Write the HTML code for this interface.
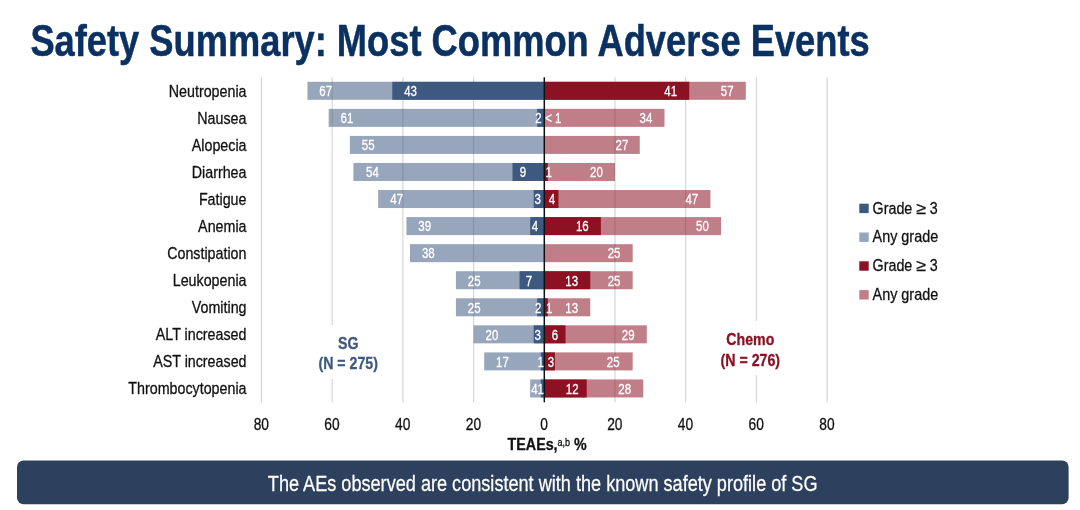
<!DOCTYPE html>
<html lang="en"><head><meta charset="utf-8"><title>Safety Summary: Most Common Adverse Events</title>
<style>html,body{margin:0;padding:0;background:#fff}body{width:1080px;height:510px;overflow:hidden}svg{display:block;font-family:'Liberation Sans', Arial, sans-serif}</style></head><body>
<svg width="1080" height="510" viewBox="0 0 1080 510">
<rect width="1080" height="510" fill="#fff"/>
<text transform="translate(30.40 55.60) scale(0.801 1)" font-size="45.3" text-anchor="start" fill="#0a3161" font-weight="bold" stroke="#0a3161" stroke-width="0.5" stroke-linejoin="round">Safety Summary: Most Common Adverse Events</text>
<text transform="translate(246.50 96.80) scale(0.85 1)" font-size="16.8" text-anchor="end" fill="#111" font-weight="normal" stroke="#111" stroke-width="0.3" stroke-linejoin="round">Neutropenia</text>
<text transform="translate(246.50 123.86) scale(0.85 1)" font-size="16.8" text-anchor="end" fill="#111" font-weight="normal" stroke="#111" stroke-width="0.3" stroke-linejoin="round">Nausea</text>
<text transform="translate(246.50 150.92) scale(0.85 1)" font-size="16.8" text-anchor="end" fill="#111" font-weight="normal" stroke="#111" stroke-width="0.3" stroke-linejoin="round">Alopecia</text>
<text transform="translate(246.50 177.98) scale(0.85 1)" font-size="16.8" text-anchor="end" fill="#111" font-weight="normal" stroke="#111" stroke-width="0.3" stroke-linejoin="round">Diarrhea</text>
<text transform="translate(246.50 205.04) scale(0.85 1)" font-size="16.8" text-anchor="end" fill="#111" font-weight="normal" stroke="#111" stroke-width="0.3" stroke-linejoin="round">Fatigue</text>
<text transform="translate(246.50 232.10) scale(0.85 1)" font-size="16.8" text-anchor="end" fill="#111" font-weight="normal" stroke="#111" stroke-width="0.3" stroke-linejoin="round">Anemia</text>
<text transform="translate(246.50 259.16) scale(0.85 1)" font-size="16.8" text-anchor="end" fill="#111" font-weight="normal" stroke="#111" stroke-width="0.3" stroke-linejoin="round">Constipation</text>
<text transform="translate(246.50 286.22) scale(0.85 1)" font-size="16.8" text-anchor="end" fill="#111" font-weight="normal" stroke="#111" stroke-width="0.3" stroke-linejoin="round">Leukopenia</text>
<text transform="translate(246.50 313.28) scale(0.85 1)" font-size="16.8" text-anchor="end" fill="#111" font-weight="normal" stroke="#111" stroke-width="0.3" stroke-linejoin="round">Vomiting</text>
<text transform="translate(246.50 340.34) scale(0.85 1)" font-size="16.8" text-anchor="end" fill="#111" font-weight="normal" stroke="#111" stroke-width="0.3" stroke-linejoin="round">ALT increased</text>
<text transform="translate(246.50 367.40) scale(0.85 1)" font-size="16.8" text-anchor="end" fill="#111" font-weight="normal" stroke="#111" stroke-width="0.3" stroke-linejoin="round">AST increased</text>
<text transform="translate(246.50 394.46) scale(0.85 1)" font-size="16.8" text-anchor="end" fill="#111" font-weight="normal" stroke="#111" stroke-width="0.3" stroke-linejoin="round">Thrombocytopenia</text>
<rect x="260.90" y="77.3" width="1.2" height="325.00" fill="#d6d6d6"/>
<rect x="331.60" y="77.3" width="1.2" height="325.00" fill="#d6d6d6"/>
<rect x="402.30" y="77.3" width="1.2" height="325.00" fill="#d6d6d6"/>
<rect x="473.00" y="77.3" width="1.2" height="325.00" fill="#d6d6d6"/>
<rect x="614.40" y="77.3" width="1.2" height="325.00" fill="#d6d6d6"/>
<rect x="685.10" y="77.3" width="1.2" height="325.00" fill="#d6d6d6"/>
<rect x="755.80" y="77.3" width="1.2" height="325.00" fill="#d6d6d6"/>
<rect x="826.50" y="77.3" width="1.2" height="325.00" fill="#d6d6d6"/>
<rect x="307.45" y="81.80" width="236.84" height="18.0" fill="#3e5980" fill-opacity="0.535"/>
<rect x="392.29" y="81.80" width="152.00" height="18.0" fill="#3e5980"/>
<rect x="544.30" y="81.80" width="201.50" height="18.0" fill="#8b1123" fill-opacity="0.54"/>
<rect x="544.30" y="81.80" width="144.94" height="18.0" fill="#8b1123"/>
<rect x="328.66" y="108.86" width="215.64" height="18.0" fill="#3e5980" fill-opacity="0.535"/>
<rect x="537.23" y="108.86" width="7.07" height="18.0" fill="#3e5980"/>
<rect x="544.30" y="108.86" width="120.19" height="18.0" fill="#8b1123" fill-opacity="0.54"/>
<rect x="349.87" y="135.92" width="194.43" height="18.0" fill="#3e5980" fill-opacity="0.535"/>
<rect x="544.30" y="135.92" width="95.45" height="18.0" fill="#8b1123" fill-opacity="0.54"/>
<rect x="353.41" y="162.98" width="190.89" height="18.0" fill="#3e5980" fill-opacity="0.535"/>
<rect x="512.48" y="162.98" width="31.82" height="18.0" fill="#3e5980"/>
<rect x="544.30" y="162.98" width="70.70" height="18.0" fill="#8b1123" fill-opacity="0.54"/>
<rect x="544.30" y="162.98" width="3.54" height="18.0" fill="#8b1123"/>
<rect x="378.15" y="190.04" width="166.15" height="18.0" fill="#3e5980" fill-opacity="0.535"/>
<rect x="533.69" y="190.04" width="10.61" height="18.0" fill="#3e5980"/>
<rect x="544.30" y="190.04" width="166.15" height="18.0" fill="#8b1123" fill-opacity="0.54"/>
<rect x="544.30" y="190.04" width="14.14" height="18.0" fill="#8b1123"/>
<rect x="406.43" y="217.10" width="137.87" height="18.0" fill="#3e5980" fill-opacity="0.535"/>
<rect x="530.16" y="217.10" width="14.14" height="18.0" fill="#3e5980"/>
<rect x="544.30" y="217.10" width="176.75" height="18.0" fill="#8b1123" fill-opacity="0.54"/>
<rect x="544.30" y="217.10" width="56.56" height="18.0" fill="#8b1123"/>
<rect x="409.97" y="244.16" width="134.33" height="18.0" fill="#3e5980" fill-opacity="0.535"/>
<rect x="544.30" y="244.16" width="88.38" height="18.0" fill="#8b1123" fill-opacity="0.54"/>
<rect x="455.92" y="271.22" width="88.38" height="18.0" fill="#3e5980" fill-opacity="0.535"/>
<rect x="519.55" y="271.22" width="24.75" height="18.0" fill="#3e5980"/>
<rect x="544.30" y="271.22" width="88.38" height="18.0" fill="#8b1123" fill-opacity="0.54"/>
<rect x="544.30" y="271.22" width="45.95" height="18.0" fill="#8b1123"/>
<rect x="455.92" y="298.28" width="88.38" height="18.0" fill="#3e5980" fill-opacity="0.535"/>
<rect x="537.23" y="298.28" width="7.07" height="18.0" fill="#3e5980"/>
<rect x="544.30" y="298.28" width="45.95" height="18.0" fill="#8b1123" fill-opacity="0.54"/>
<rect x="544.30" y="298.28" width="3.54" height="18.0" fill="#8b1123"/>
<rect x="473.60" y="325.34" width="70.70" height="18.0" fill="#3e5980" fill-opacity="0.535"/>
<rect x="533.69" y="325.34" width="10.61" height="18.0" fill="#3e5980"/>
<rect x="544.30" y="325.34" width="102.52" height="18.0" fill="#8b1123" fill-opacity="0.54"/>
<rect x="544.30" y="325.34" width="21.21" height="18.0" fill="#8b1123"/>
<rect x="484.20" y="352.40" width="60.09" height="18.0" fill="#3e5980" fill-opacity="0.535"/>
<rect x="540.76" y="352.40" width="3.54" height="18.0" fill="#3e5980"/>
<rect x="544.30" y="352.40" width="88.38" height="18.0" fill="#8b1123" fill-opacity="0.54"/>
<rect x="544.30" y="352.40" width="10.61" height="18.0" fill="#8b1123"/>
<rect x="530.16" y="379.46" width="14.14" height="18.0" fill="#3e5980" fill-opacity="0.535"/>
<rect x="540.76" y="379.46" width="3.54" height="18.0" fill="#3e5980"/>
<rect x="544.30" y="379.46" width="98.98" height="18.0" fill="#8b1123" fill-opacity="0.54"/>
<rect x="544.30" y="379.46" width="42.42" height="18.0" fill="#8b1123"/>
<rect x="543.55" y="77.3" width="1.5" height="325.00" fill="#111"/>
<text transform="translate(325.75 96.10) scale(0.82 1)" font-size="14" text-anchor="middle" fill="#fff" font-weight="normal" stroke="#fff" stroke-width="0.3" stroke-linejoin="round">67</text>
<text transform="translate(410.59 96.10) scale(0.82 1)" font-size="14" text-anchor="middle" fill="#fff" font-weight="normal" stroke="#fff" stroke-width="0.3" stroke-linejoin="round">43</text>
<text transform="translate(670.63 96.10) scale(0.82 1)" font-size="14" text-anchor="middle" fill="#fff" font-weight="normal" stroke="#fff" stroke-width="0.3" stroke-linejoin="round">41</text>
<text transform="translate(727.19 96.10) scale(0.82 1)" font-size="14" text-anchor="middle" fill="#fff" font-weight="normal" stroke="#fff" stroke-width="0.3" stroke-linejoin="round">57</text>
<text transform="translate(346.96 123.16) scale(0.82 1)" font-size="14" text-anchor="middle" fill="#fff" font-weight="normal" stroke="#fff" stroke-width="0.3" stroke-linejoin="round">61</text>
<text transform="translate(538.40 123.16) scale(0.82 1)" font-size="14" text-anchor="middle" fill="#fff" font-weight="normal" stroke="#fff" stroke-width="0.3" stroke-linejoin="round">2</text>
<text transform="translate(553.30 123.16) scale(0.82 1)" font-size="14" text-anchor="middle" fill="#fff" font-weight="normal" stroke="#fff" stroke-width="0.3" stroke-linejoin="round">&lt; 1</text>
<text transform="translate(645.89 123.16) scale(0.82 1)" font-size="14" text-anchor="middle" fill="#fff" font-weight="normal" stroke="#fff" stroke-width="0.3" stroke-linejoin="round">34</text>
<text transform="translate(368.17 150.22) scale(0.82 1)" font-size="14" text-anchor="middle" fill="#fff" font-weight="normal" stroke="#fff" stroke-width="0.3" stroke-linejoin="round">55</text>
<text transform="translate(621.90 150.22) scale(0.82 1)" font-size="14" text-anchor="middle" fill="#fff" font-weight="normal" stroke="#fff" stroke-width="0.3" stroke-linejoin="round">27</text>
<text transform="translate(372.50 177.28) scale(0.82 1)" font-size="14" text-anchor="middle" fill="#fff" font-weight="normal" stroke="#fff" stroke-width="0.3" stroke-linejoin="round">54</text>
<text transform="translate(522.90 177.28) scale(0.82 1)" font-size="14" text-anchor="middle" fill="#fff" font-weight="normal" stroke="#fff" stroke-width="0.3" stroke-linejoin="round">9</text>
<text transform="translate(548.60 177.28) scale(0.82 1)" font-size="14" text-anchor="middle" fill="#fff" font-weight="normal" stroke="#fff" stroke-width="0.3" stroke-linejoin="round">1</text>
<text transform="translate(596.40 177.28) scale(0.82 1)" font-size="14" text-anchor="middle" fill="#fff" font-weight="normal" stroke="#fff" stroke-width="0.3" stroke-linejoin="round">20</text>
<text transform="translate(396.70 204.34) scale(0.82 1)" font-size="14" text-anchor="middle" fill="#fff" font-weight="normal" stroke="#fff" stroke-width="0.3" stroke-linejoin="round">47</text>
<text transform="translate(537.60 204.34) scale(0.82 1)" font-size="14" text-anchor="middle" fill="#fff" font-weight="normal" stroke="#fff" stroke-width="0.3" stroke-linejoin="round">3</text>
<text transform="translate(552.00 204.34) scale(0.82 1)" font-size="14" text-anchor="middle" fill="#fff" font-weight="normal" stroke="#fff" stroke-width="0.3" stroke-linejoin="round">4</text>
<text transform="translate(691.84 204.34) scale(0.82 1)" font-size="14" text-anchor="middle" fill="#fff" font-weight="normal" stroke="#fff" stroke-width="0.3" stroke-linejoin="round">47</text>
<text transform="translate(424.73 231.40) scale(0.82 1)" font-size="14" text-anchor="middle" fill="#fff" font-weight="normal" stroke="#fff" stroke-width="0.3" stroke-linejoin="round">39</text>
<text transform="translate(535.00 231.40) scale(0.82 1)" font-size="14" text-anchor="middle" fill="#fff" font-weight="normal" stroke="#fff" stroke-width="0.3" stroke-linejoin="round">4</text>
<text transform="translate(582.26 231.40) scale(0.82 1)" font-size="14" text-anchor="middle" fill="#fff" font-weight="normal" stroke="#fff" stroke-width="0.3" stroke-linejoin="round">16</text>
<text transform="translate(702.45 231.40) scale(0.82 1)" font-size="14" text-anchor="middle" fill="#fff" font-weight="normal" stroke="#fff" stroke-width="0.3" stroke-linejoin="round">50</text>
<text transform="translate(428.27 258.46) scale(0.82 1)" font-size="14" text-anchor="middle" fill="#fff" font-weight="normal" stroke="#fff" stroke-width="0.3" stroke-linejoin="round">38</text>
<text transform="translate(614.07 258.46) scale(0.82 1)" font-size="14" text-anchor="middle" fill="#fff" font-weight="normal" stroke="#fff" stroke-width="0.3" stroke-linejoin="round">25</text>
<text transform="translate(474.22 285.52) scale(0.82 1)" font-size="14" text-anchor="middle" fill="#fff" font-weight="normal" stroke="#fff" stroke-width="0.3" stroke-linejoin="round">25</text>
<text transform="translate(528.90 285.52) scale(0.82 1)" font-size="14" text-anchor="middle" fill="#fff" font-weight="normal" stroke="#fff" stroke-width="0.3" stroke-linejoin="round">7</text>
<text transform="translate(571.65 285.52) scale(0.82 1)" font-size="14" text-anchor="middle" fill="#fff" font-weight="normal" stroke="#fff" stroke-width="0.3" stroke-linejoin="round">13</text>
<text transform="translate(614.07 285.52) scale(0.82 1)" font-size="14" text-anchor="middle" fill="#fff" font-weight="normal" stroke="#fff" stroke-width="0.3" stroke-linejoin="round">25</text>
<text transform="translate(474.22 312.58) scale(0.82 1)" font-size="14" text-anchor="middle" fill="#fff" font-weight="normal" stroke="#fff" stroke-width="0.3" stroke-linejoin="round">25</text>
<text transform="translate(538.30 312.58) scale(0.82 1)" font-size="14" text-anchor="middle" fill="#fff" font-weight="normal" stroke="#fff" stroke-width="0.3" stroke-linejoin="round">2</text>
<text transform="translate(549.20 312.58) scale(0.82 1)" font-size="14" text-anchor="middle" fill="#fff" font-weight="normal" stroke="#fff" stroke-width="0.3" stroke-linejoin="round">1</text>
<text transform="translate(571.65 312.58) scale(0.82 1)" font-size="14" text-anchor="middle" fill="#fff" font-weight="normal" stroke="#fff" stroke-width="0.3" stroke-linejoin="round">13</text>
<text transform="translate(491.90 339.64) scale(0.82 1)" font-size="14" text-anchor="middle" fill="#fff" font-weight="normal" stroke="#fff" stroke-width="0.3" stroke-linejoin="round">20</text>
<text transform="translate(537.60 339.64) scale(0.82 1)" font-size="14" text-anchor="middle" fill="#fff" font-weight="normal" stroke="#fff" stroke-width="0.3" stroke-linejoin="round">3</text>
<text transform="translate(554.90 339.64) scale(0.82 1)" font-size="14" text-anchor="middle" fill="#fff" font-weight="normal" stroke="#fff" stroke-width="0.3" stroke-linejoin="round">6</text>
<text transform="translate(628.21 339.64) scale(0.82 1)" font-size="14" text-anchor="middle" fill="#fff" font-weight="normal" stroke="#fff" stroke-width="0.3" stroke-linejoin="round">29</text>
<text transform="translate(502.50 366.70) scale(0.82 1)" font-size="14" text-anchor="middle" fill="#fff" font-weight="normal" stroke="#fff" stroke-width="0.3" stroke-linejoin="round">17</text>
<text transform="translate(540.60 366.70) scale(0.82 1)" font-size="14" text-anchor="middle" fill="#fff" font-weight="normal" stroke="#fff" stroke-width="0.3" stroke-linejoin="round">1</text>
<text transform="translate(551.00 366.70) scale(0.82 1)" font-size="14" text-anchor="middle" fill="#fff" font-weight="normal" stroke="#fff" stroke-width="0.3" stroke-linejoin="round">3</text>
<text transform="translate(613.20 366.70) scale(0.82 1)" font-size="14" text-anchor="middle" fill="#fff" font-weight="normal" stroke="#fff" stroke-width="0.3" stroke-linejoin="round">25</text>
<text transform="translate(534.50 393.76) scale(0.82 1)" font-size="14" text-anchor="middle" fill="#fff" font-weight="normal" stroke="#fff" stroke-width="0.3" stroke-linejoin="round">4</text>
<text transform="translate(540.70 393.76) scale(0.82 1)" font-size="14" text-anchor="middle" fill="#fff" font-weight="normal" stroke="#fff" stroke-width="0.3" stroke-linejoin="round">1</text>
<text transform="translate(572.20 393.76) scale(0.82 1)" font-size="14" text-anchor="middle" fill="#fff" font-weight="normal" stroke="#fff" stroke-width="0.3" stroke-linejoin="round">12</text>
<text transform="translate(624.68 393.76) scale(0.82 1)" font-size="14" text-anchor="middle" fill="#fff" font-weight="normal" stroke="#fff" stroke-width="0.3" stroke-linejoin="round">28</text>
<rect x="312" y="325" width="72" height="54" fill="#fff"/>
<text transform="translate(348.20 348.60) scale(0.86 1)" font-size="16.5" text-anchor="middle" fill="#3e5980" font-weight="bold" stroke="#3e5980" stroke-width="0.3" stroke-linejoin="round">SG</text>
<text transform="translate(348.20 369.20) scale(0.86 1)" font-size="16.5" text-anchor="middle" fill="#3e5980" font-weight="bold" stroke="#3e5980" stroke-width="0.3" stroke-linejoin="round">(N = 275)</text>
<rect x="714" y="321" width="72" height="54" fill="#fff"/>
<text transform="translate(750.30 345.00) scale(0.86 1)" font-size="16.5" text-anchor="middle" fill="#8b1123" font-weight="bold" stroke="#8b1123" stroke-width="0.3" stroke-linejoin="round">Chemo</text>
<text transform="translate(750.30 365.60) scale(0.86 1)" font-size="16.5" text-anchor="middle" fill="#8b1123" font-weight="bold" stroke="#8b1123" stroke-width="0.3" stroke-linejoin="round">(N = 276)</text>
<text transform="translate(261.30 430.20) scale(0.82 1)" font-size="16.8" text-anchor="middle" fill="#111" font-weight="normal" stroke="#111" stroke-width="0.3" stroke-linejoin="round">80</text>
<text transform="translate(332.00 430.20) scale(0.82 1)" font-size="16.8" text-anchor="middle" fill="#111" font-weight="normal" stroke="#111" stroke-width="0.3" stroke-linejoin="round">60</text>
<text transform="translate(402.70 430.20) scale(0.82 1)" font-size="16.8" text-anchor="middle" fill="#111" font-weight="normal" stroke="#111" stroke-width="0.3" stroke-linejoin="round">40</text>
<text transform="translate(473.40 430.20) scale(0.82 1)" font-size="16.8" text-anchor="middle" fill="#111" font-weight="normal" stroke="#111" stroke-width="0.3" stroke-linejoin="round">20</text>
<text transform="translate(544.10 430.20) scale(0.82 1)" font-size="16.8" text-anchor="middle" fill="#111" font-weight="normal" stroke="#111" stroke-width="0.3" stroke-linejoin="round">0</text>
<text transform="translate(614.80 430.20) scale(0.82 1)" font-size="16.8" text-anchor="middle" fill="#111" font-weight="normal" stroke="#111" stroke-width="0.3" stroke-linejoin="round">20</text>
<text transform="translate(685.50 430.20) scale(0.82 1)" font-size="16.8" text-anchor="middle" fill="#111" font-weight="normal" stroke="#111" stroke-width="0.3" stroke-linejoin="round">40</text>
<text transform="translate(756.20 430.20) scale(0.82 1)" font-size="16.8" text-anchor="middle" fill="#111" font-weight="normal" stroke="#111" stroke-width="0.3" stroke-linejoin="round">60</text>
<text transform="translate(826.90 430.20) scale(0.82 1)" font-size="16.8" text-anchor="middle" fill="#111" font-weight="normal" stroke="#111" stroke-width="0.3" stroke-linejoin="round">80</text>
<text transform="translate(507.6 450.4) scale(0.86 1)" font-size="16.6" font-weight="bold" fill="#111" stroke="#111" stroke-width="0.3">TEAEs,<tspan font-size="10.5" font-weight="normal" dy="-4.8">a,b</tspan><tspan dy="4.8"> %</tspan></text>
<rect x="859.3" y="203.70" width="9.4" height="9.4" fill="#3e5980"/>
<text transform="translate(872.60 213.50) scale(0.85 1)" font-size="16.8" text-anchor="start" fill="#111" font-weight="normal" stroke="#111" stroke-width="0.3" stroke-linejoin="round">Grade</text>
<text transform="translate(921.00 213.50) scale(1.06 1)" font-size="16.8" text-anchor="middle" fill="#111" font-weight="normal" stroke="#111" stroke-width="0.3" stroke-linejoin="round">≥</text>
<text transform="translate(933.80 213.50) scale(0.85 1)" font-size="16.8" text-anchor="middle" fill="#111" font-weight="normal" stroke="#111" stroke-width="0.3" stroke-linejoin="round">3</text>
<rect x="859.3" y="232.50" width="9.4" height="9.4" fill="#98a6bc"/>
<text transform="translate(872.60 242.30) scale(0.857 1)" font-size="16.8" text-anchor="start" fill="#111" font-weight="normal" stroke="#111" stroke-width="0.3" stroke-linejoin="round">Any grade</text>
<rect x="859.3" y="261.30" width="9.4" height="9.4" fill="#8b1123"/>
<text transform="translate(872.60 271.10) scale(0.85 1)" font-size="16.8" text-anchor="start" fill="#111" font-weight="normal" stroke="#111" stroke-width="0.3" stroke-linejoin="round">Grade</text>
<text transform="translate(921.00 271.10) scale(1.06 1)" font-size="16.8" text-anchor="middle" fill="#111" font-weight="normal" stroke="#111" stroke-width="0.3" stroke-linejoin="round">≥</text>
<text transform="translate(933.80 271.10) scale(0.85 1)" font-size="16.8" text-anchor="middle" fill="#111" font-weight="normal" stroke="#111" stroke-width="0.3" stroke-linejoin="round">3</text>
<rect x="859.3" y="290.10" width="9.4" height="9.4" fill="#c27e87"/>
<text transform="translate(872.60 299.90) scale(0.857 1)" font-size="16.8" text-anchor="start" fill="#111" font-weight="normal" stroke="#111" stroke-width="0.3" stroke-linejoin="round">Any grade</text>
<rect x="17.0" y="460.4" width="1051.6" height="43.8" rx="6.5" ry="6.5" fill="#2d415e"/>
<text transform="translate(542.70 491.20) scale(0.8315 1)" font-size="21.8" text-anchor="middle" fill="#fff" font-weight="normal" stroke="#fff" stroke-width="0.25" stroke-linejoin="round">The AEs observed are consistent with the known safety profile of SG</text>
</svg></body></html>
